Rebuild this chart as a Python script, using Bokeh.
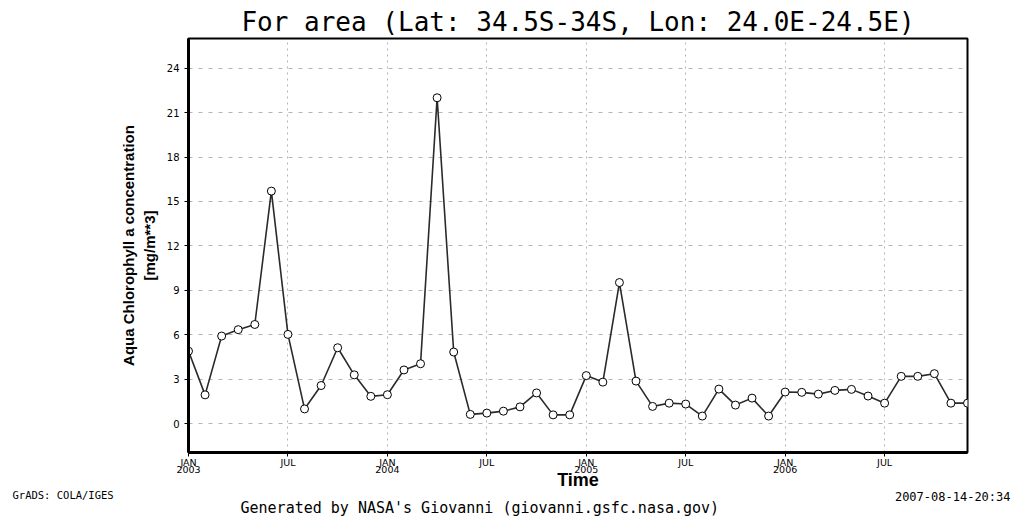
from bokeh.plotting import figure
from bokeh.models import Range1d, FixedTicker, Title
from bokeh.embed import file_html
from bokeh.resources import INLINE

months = ["2003-01", "2003-02", "2003-03", "2003-04", "2003-05", "2003-06",
          "2003-07", "2003-08", "2003-09", "2003-10", "2003-11", "2003-12",
          "2004-01", "2004-02", "2004-03", "2004-04", "2004-05", "2004-06",
          "2004-07", "2004-08", "2004-09", "2004-10", "2004-11", "2004-12",
          "2005-01", "2005-02", "2005-03", "2005-04", "2005-05", "2005-06",
          "2005-07", "2005-08", "2005-09", "2005-10", "2005-11", "2005-12",
          "2006-01", "2006-02", "2006-03", "2006-04", "2006-05", "2006-06",
          "2006-07", "2006-08", "2006-09", "2006-10", "2006-11", "2006-12"]
chl = [4.9, 1.95, 5.92, 6.35, 6.7, 15.7,
       6.03, 1.0, 2.58, 5.13, 3.3, 1.85,
       1.96, 3.63, 4.05, 22.0, 4.84, 0.63,
       0.72, 0.85, 1.14, 2.08, 0.6, 0.6,
       3.25, 2.81, 9.53, 2.88, 1.17, 1.39,
       1.33, 0.52, 2.34, 1.26, 1.73, 0.52,
       2.14, 2.12, 2.0, 2.25, 2.32, 1.87,
       1.39, 3.2, 3.2, 3.38, 1.39, 1.39]
x_tick_months = ["2003-01", "2003-07", "2004-01", "2004-07",
                 "2005-01", "2005-07", "2006-01", "2006-07"]
x_tick_labels = ["JAN\n2003", "JUL", "JAN\n2004", "JUL",
                 "JAN\n2005", "JUL", "JAN\n2006", "JUL"]
y_ticks = [0, 3, 6, 9, 12, 15, 18, 21, 24]

xi = [months.index(m) for m in months]
tick_pos = [months.index(m) for m in x_tick_months]

p = figure(width=1011, height=516, output_backend="svg", toolbar_location=None,
           x_range=Range1d(0, len(months) - 1), y_range=Range1d(-1.94, 26.0),
           min_border_left=188, min_border_right=44, min_border_top=38,
           min_border_bottom=64, background_fill_color="white",
           border_fill_color="white")

p.title.text = "For area (Lat: 34.5S-34S, Lon: 24.0E-24.5E)"
p.title.align = "center"
p.title.text_font = "DejaVu Sans Mono"
p.title.text_font_size = "26px"
p.title.text_font_style = "normal"
p.title.text_color = "black"
p.title.offset = 0
p.title.standoff = 4

p.outline_line_color = "black"
p.outline_line_width = 2
p.outline_line_alpha = 1

# axes
p.xaxis.ticker = FixedTicker(ticks=tick_pos)
p.xaxis.major_label_overrides = {t: l for t, l in zip(tick_pos, x_tick_labels)}
p.yaxis.ticker = FixedTicker(ticks=y_ticks)
for ax in (p.xaxis, p.yaxis):
    ax.axis_line_width = 3
    ax.axis_line_color = "black"
    ax.major_tick_line_color = "black"
    ax.major_tick_in = 0
    ax.major_tick_out = 4
    ax.minor_tick_line_color = None
    ax.major_label_text_font = "DejaVu Sans"
    ax.major_label_text_font_size = "10px"
    ax.major_label_text_color = "black"
p.xaxis.major_label_text_font_size = "9.5px"
p.xaxis.major_label_standoff = 0
p.xaxis.major_label_text_line_height = 0.72
p.yaxis.major_label_standoff = 5

p.xaxis.axis_label = "Time"
p.xaxis.axis_label_text_font = "Liberation Sans"
p.xaxis.axis_label_text_font_style = "bold"
p.xaxis.axis_label_text_font_size = "18px"
p.xaxis.axis_label_standoff = -8
p.xaxis.axis_label_text_color = "black"

p.yaxis.axis_label = "Aqua Chlorophyll a concentration\n[mg/m**3]"
p.yaxis.axis_label_text_font = "Liberation Sans"
p.yaxis.axis_label_text_font_style = "bold"
p.yaxis.axis_label_text_font_size = "15px"
p.yaxis.axis_label_standoff = 6
p.yaxis.axis_label_text_color = "black"

# grids
p.xgrid.grid_line_color = "#b4b4b4"
p.xgrid.grid_line_dash = "2 4"
p.xgrid.grid_line_width = 1
p.ygrid.grid_line_color = "#b4b4b4"
p.ygrid.grid_line_dash = "4 6"
p.ygrid.grid_line_width = 1

p.line(xi, chl, line_color="#2a2a2a", line_width=1.6)
p.scatter(xi, chl, marker="circle", size=8, fill_color="white",
          line_color="black", line_width=1)

# footer texts as titles below the x axis
t_grads = Title(text="GrADS: COLA/IGES", align="left", offset=-176,
                vertical_align="middle", standoff=-12,
                text_font="DejaVu Sans Mono", text_font_size="10.5px",
                text_font_style="normal", text_color="black")
t_date = Title(text="2007-08-14-20:34", align="right", offset=-43,
               vertical_align="middle", standoff=-14,
               text_font="DejaVu Sans Mono", text_font_size="12px",
               text_font_style="normal", text_color="black")
t_gen = Title(text="Generated by NASA's Giovanni (giovanni.gsfc.nasa.gov)",
              align="left", offset=52, vertical_align="bottom", standoff=-2,
              text_font="DejaVu Sans Mono", text_font_size="15px",
              text_font_style="normal", text_color="black")
p.add_layout(t_grads, "below")
p.add_layout(t_date, "below")
p.add_layout(t_gen, "below")

open("out.html", "w").write(file_html(p, INLINE))
